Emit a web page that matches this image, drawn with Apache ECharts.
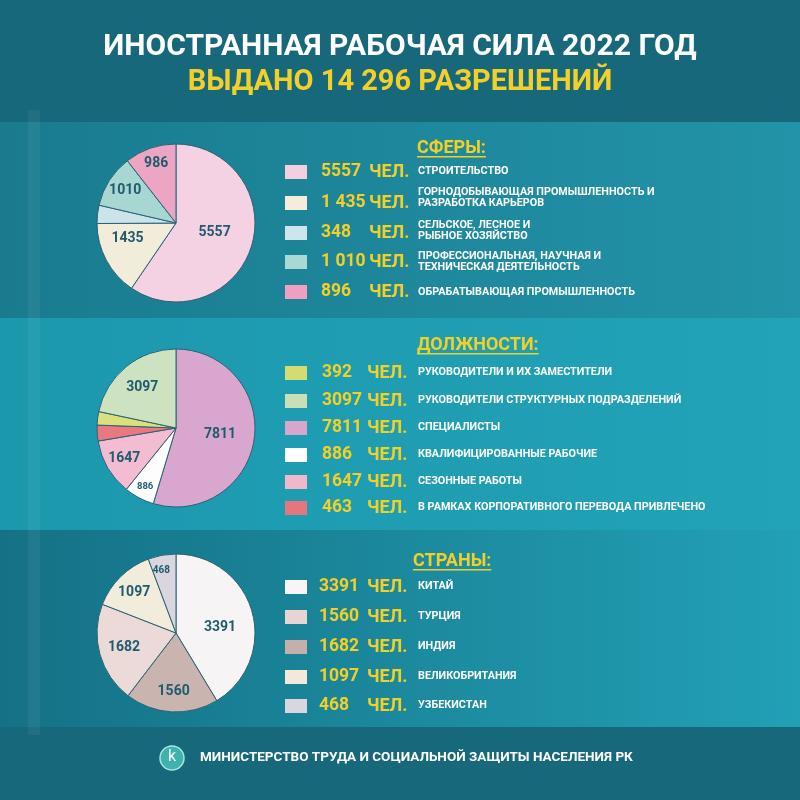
<!DOCTYPE html>
<html><head><meta charset="utf-8">
<script src="https://cdn.jsdelivr.net/npm/echarts@6/dist/echarts.min.js"></script>
<style>html,body{margin:0;padding:0;background:#17687b}#c{width:800px;height:800px}</style>
</head><body><div id="c"></div>
<script>
// ---------- DATA ----------
const titleLine1 = 'ИНОСТРАННАЯ РАБОЧАЯ СИЛА 2022 ГОД';
const titleLine2 = 'ВЫДАНО 14 296 РАЗРЕШЕНИЙ';
const footerText = 'МИНИСТЕРСТВО ТРУДА И СОЦИАЛЬНОЙ ЗАЩИТЫ НАСЕЛЕНИЯ РК';
const unitText = 'ЧЕЛ.';

const sphereTitle = 'СФЕРЫ:';
const sphereNames = ['СТРОИТЕЛЬСТВО', 'ГОРНОДОБЫВАЮЩАЯ ПРОМЫШЛЕННОСТЬ И\nРАЗРАБОТКА КАРЬЕРОВ', 'СЕЛЬСКОЕ, ЛЕСНОЕ И\nРЫБНОЕ ХОЗЯЙСТВО', 'ПРОФЕССИОНАЛЬНАЯ, НАУЧНАЯ И\nТЕХНИЧЕСКАЯ ДЕЯТЕЛЬНОСТЬ', 'ОБРАБАТЫВАЮЩАЯ ПРОМЫШЛЕННОСТЬ'];
const sphereValues = [5557, 1435, 348, 1010, 986];
const sphereLegendCounts = ['5557', '1 435', '348', '1 010', '896'];

const postTitle = 'ДОЛЖНОСТИ:';
const postNames = ['РУКОВОДИТЕЛИ И ИХ ЗАМЕСТИТЕЛИ', 'РУКОВОДИТЕЛИ СТРУКТУРНЫХ ПОДРАЗДЕЛЕНИЙ', 'СПЕЦИАЛИСТЫ', 'КВАЛИФИЦИРОВАННЫЕ РАБОЧИЕ', 'СЕЗОННЫЕ РАБОТЫ', 'В РАМКАХ КОРПОРАТИВНОГО ПЕРЕВОДА ПРИВЛЕЧЕНО'];
const postLegendCounts = ['392', '3097', '7811', '886', '1647', '463'];
// pie order (clockwise from top)
const postPieNames = ['СПЕЦИАЛИСТЫ', 'КВАЛИФИЦИРОВАННЫЕ РАБОЧИЕ', 'СЕЗОННЫЕ РАБОТЫ', 'В РАМКАХ КОРПОРАТИВНОГО ПЕРЕВОДА ПРИВЛЕЧЕНО', 'РУКОВОДИТЕЛИ И ИХ ЗАМЕСТИТЕЛИ', 'РУКОВОДИТЕЛИ СТРУКТУРНЫХ ПОДРАЗДЕЛЕНИЙ'];
const postPieValues = [7811, 886, 1647, 463, 392, 3097];

const countryTitle = 'СТРАНЫ:';
const countryNames = ['КИТАЙ', 'ТУРЦИЯ', 'ИНДИЯ', 'ВЕЛИКОБРИТАНИЯ', 'УЗБЕКИСТАН'];
const countryLegendCounts = ['3391', '1560', '1682', '1097', '468'];
const countryPieValues = [3391, 1560, 1682, 1097, 468];

// ---------- STYLE / LAYOUT ----------
const sphereColors = ['#f5d2e3', '#f2ecdb', '#cae4ea', '#a8d7d3', '#eca6c4'];
const sphereLegendColors = ['#f4cfe0', '#f4ecdc', '#cde6ea', '#a9d9d5', '#ee9fc2'];
const postPieColors = ['#d8a6ce', '#fdfdfd', '#f3bcd2', '#ea7882', '#d9e07c', '#cde2c1'];
const postLegendColors = ['#d3dc72', '#c9dfb8', '#d8a5cc', '#ffffff', '#f1b7cb', '#e57680'];
const countryPieColors = ['#f6f4f5', '#c9b4af', '#ebdad7', '#f2ecdc', '#dad6df'];
const countryLegendColors = ['#f7f5f6', '#e8d4d2', '#c6afaa', '#f3e8dc', '#d9d6e0'];

const sphereRows = [172, 203, 233, 262, 292];
const sphereDescShift = [0, -4, -1, 1, 1];
const postRows = [373, 401, 428, 455, 482, 508];
const postDescShift = [0, 0, 0, 0, 0, 0];
const countryRows = [587, 617, 647, 677, 706];
const countryDescShift = [0, 0, 0, 0, 0];

const sphereLabelShow = [true, true, false, true, true];
const sphereLabelSize = [14, 14, 14, 14, 14];
const sphereLabelShift = [[-2, -3], [-11, -4], [0, 0], [-15, -10], [-6, -19]];
const postLabelShow = [true, true, true, false, false, true];
const postLabelSize = [14, 9.5, 14, 14, 14, 14];
const postLabelShift = [[2, 0], [-11, 21], [-15, 9], [0, 0], [0, 0], [-7, -7]];
const countryLabelShow = [true, true, true, true, true];
const countryLabelSize = [14, 14, 14, 14, 10];
const countryLabelShift = [[3, 6], [0, 16], [-11, 3], [-12, -10], [-7, -21]];

const FONT = 'Roboto, "Open Sans", sans-serif';
const YELLOW = '#f3d027';
const HEAD_FONT = 'bold 18px ' + FONT;

const measureCtx = document.createElement('canvas').getContext('2d');
function textWidth(t, f) { measureCtx.font = f; return measureCtx.measureText(t).width; }

const chart = echarts.init(document.getElementById('c'), null, {renderer: 'canvas', width: 800, height: 800});

function pieSeries(name, values, colors, show, sizes, shifts, center) {
  return {
    type: 'pie', name, center, radius: 79, startAngle: 90, clockwise: true,
    animation: false, silent: true, avoidLabelOverlap: false,
    itemStyle: {borderColor: '#2b6273', borderWidth: 1},
    label: {show: true, position: 'inside', color: '#1f5a6e', fontWeight: 'bold', fontFamily: FONT, formatter: p => String(p.value)},
    labelLine: {show: false},
    labelLayout: p => ({dx: shifts[p.dataIndex][0], dy: shifts[p.dataIndex][1]}),
    data: values.map((v, i) => ({value: v, itemStyle: {color: colors[i]}, label: {show: show[i], fontSize: sizes[i]}}))
  };
}

const g = [];
// background
g.push({type: 'rect', z: -10, shape: {x: 0, y: 0, width: 800, height: 800}, style: {fill: '#17687b'}});
function band(y, h, c1, c2) {
  g.push({type: 'rect', z: -9, shape: {x: 0, y, width: 800, height: h},
    style: {fill: new echarts.graphic.LinearGradient(0, 0, 1, 0, [{offset: 0, color: c1}, {offset: 1, color: c2}])}});
}
band(122, 196, '#1a7b8f', '#2293a8');
band(318, 212, '#1c98ad', '#22a3b7');
band(530, 197, '#157186', '#22a0b5');
g.push({type: 'rect', z: -8, shape: {x: 28, y: 110, width: 12, height: 625}, style: {fill: 'rgba(255,255,255,0.05)'}});

// titles
g.push({type: 'text', z: 5, style: {text: titleLine1, x: 400, y: 47, align: 'center', verticalAlign: 'middle', fill: '#ffffff', font: 'bold 30px ' + FONT}});
g.push({type: 'text', z: 5, style: {text: titleLine2, x: 400, y: 83, align: 'center', verticalAlign: 'middle', fill: YELLOW, font: 'bold 29px ' + FONT}});

function section(title, tx, ty, rows, descShift, counts, names, colors, numX, unitX) {
  g.push({type: 'text', z: 5, style: {text: title, x: tx, y: ty, align: 'left', verticalAlign: 'middle', fill: YELLOW, font: HEAD_FONT}});
  g.push({type: 'rect', z: 5, shape: {x: tx, y: ty + 8, width: textWidth(title, HEAD_FONT), height: 1.5}, style: {fill: YELLOW}});
  rows.forEach((y, i) => {
    g.push({type: 'rect', z: 5, shape: {x: 285, y: y - 7, width: 22, height: 14}, style: {fill: colors[i]}});
    g.push({type: 'text', z: 5, style: {text: counts[i], x: numX, y: y, align: 'left', verticalAlign: 'middle', fill: YELLOW, font: 'bold 17.5px ' + FONT}});
    g.push({type: 'text', z: 5, style: {text: unitText, x: unitX, y: y, align: 'left', verticalAlign: 'middle', fill: YELLOW, font: 'bold 18px ' + FONT}});
    g.push({type: 'text', z: 5, style: {text: names[i], x: 418, y: y - 1 + descShift[i], align: 'left', verticalAlign: 'middle', fill: '#ffffff', font: 'bold 10.8px ' + FONT, lineHeight: 11}});
  });
}
section(sphereTitle, 417, 148, sphereRows, sphereDescShift, sphereLegendCounts, sphereNames, sphereLegendColors, 321, 369);
section(postTitle, 417, 345, postRows, postDescShift, postLegendCounts, postNames, postLegendColors, 322, 367);
section(countryTitle, 413, 561, countryRows, countryDescShift, countryLegendCounts, countryNames, countryLegendColors, 319, 367);

// footer
g.push({type: 'circle', z: 5, shape: {cx: 172, cy: 758, r: 12}, style: {fill: '#3fb2ae', stroke: '#a7e4df', lineWidth: 1.5}});
g.push({type: 'text', z: 6, style: {text: 'k', x: 172, y: 757, align: 'center', verticalAlign: 'middle', fill: '#ffffff', font: '16px ' + FONT}});
g.push({type: 'text', z: 5, style: {text: footerText, x: 200, y: 758, align: 'left', verticalAlign: 'middle', fill: '#ffffff', font: 'bold 13.5px ' + FONT}});

chart.setOption({
  animation: false,
  graphic: {elements: g},
  series: [
    pieSeries('Сферы', sphereValues, sphereColors, sphereLabelShow, sphereLabelSize, sphereLabelShift, [176, 223]),
    pieSeries('Должности', postPieValues, postPieColors, postLabelShow, postLabelSize, postLabelShift, [176, 428]),
    pieSeries('Страны', countryPieValues, countryPieColors, countryLabelShow, countryLabelSize, countryLabelShift, [176, 633])
  ]
});
</script></body></html>
